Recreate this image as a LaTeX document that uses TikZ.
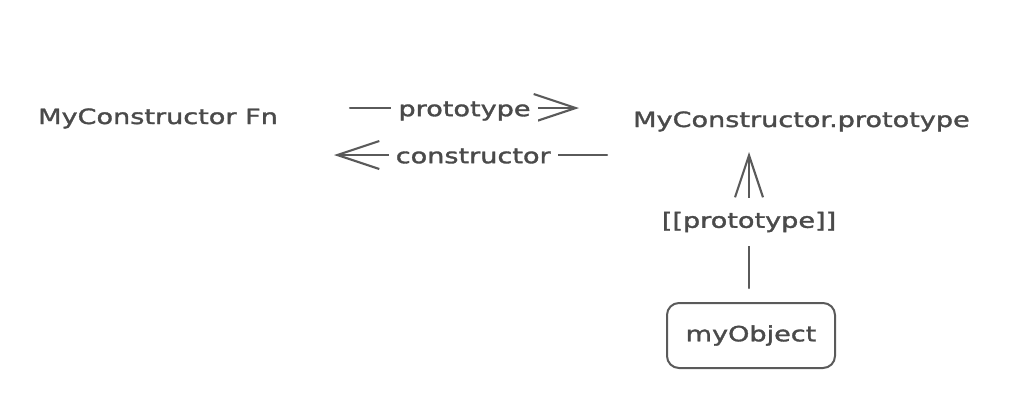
\documentclass[tikz,border=0pt]{standalone}
\usepackage{fontspec}
\newfontfamily\handfont[FakeStretch=1.29,FakeBold=1.6]{DejaVu Sans}
\usetikzlibrary{arrows.meta}
\definecolor{ink}{HTML}{4A4A4A}
\definecolor{lineink}{HTML}{5A5A5A}
\begin{document}
\begin{tikzpicture}[x=1pt,y=-1pt,
  lbl/.style={font=\handfont\fontsize{21}{25}\selectfont, text=ink, inner sep=0pt},
  conn/.style={draw=lineink, line width=2.1pt, line cap=round,
    -{Straight Barb[length=42pt,width=28pt,line width=2.1pt]}},
  edgelbl/.style={lbl, fill=white, inner xsep=7pt, inner ysep=2pt},
  objbox/.style={draw=lineink, line width=2pt, rounded corners=12pt,
    minimum width=168pt, minimum height=65pt, font=\handfont\fontsize{21}{25}\selectfont, text=ink}]
\useasboundingbox (0,0) rectangle (1024,408);
\node[lbl, anchor=base west] (fn) at (38,124) {MyConstructor Fn};
\node[lbl, anchor=base west] (proto) at (633,127) {MyConstructor.prototype};
\node[objbox] (obj) at (751,335.5) {myObject};
\coordinate (p1) at (350,108);
\coordinate (p2) at (579,108);
\coordinate (c1) at (607,155);
\coordinate (c2) at (334,155);
\coordinate (v1) at (749,288);
\coordinate (v2) at (749,152);
\draw[conn] (p1) -- node[edgelbl, yshift=-3pt] (plbl) {prototype} (p2);
\draw[conn] (c1) -- node[edgelbl, pos=0.49, yshift=-1pt] (clbl) {constructor} (c2);
\draw[conn] (v1) -- node[edgelbl, inner xsep=2pt, inner ysep=14pt, pos=0.5, yshift=-2pt] (vlbl) {[[prototype]]} (v2);
\end{tikzpicture}
\end{document}
